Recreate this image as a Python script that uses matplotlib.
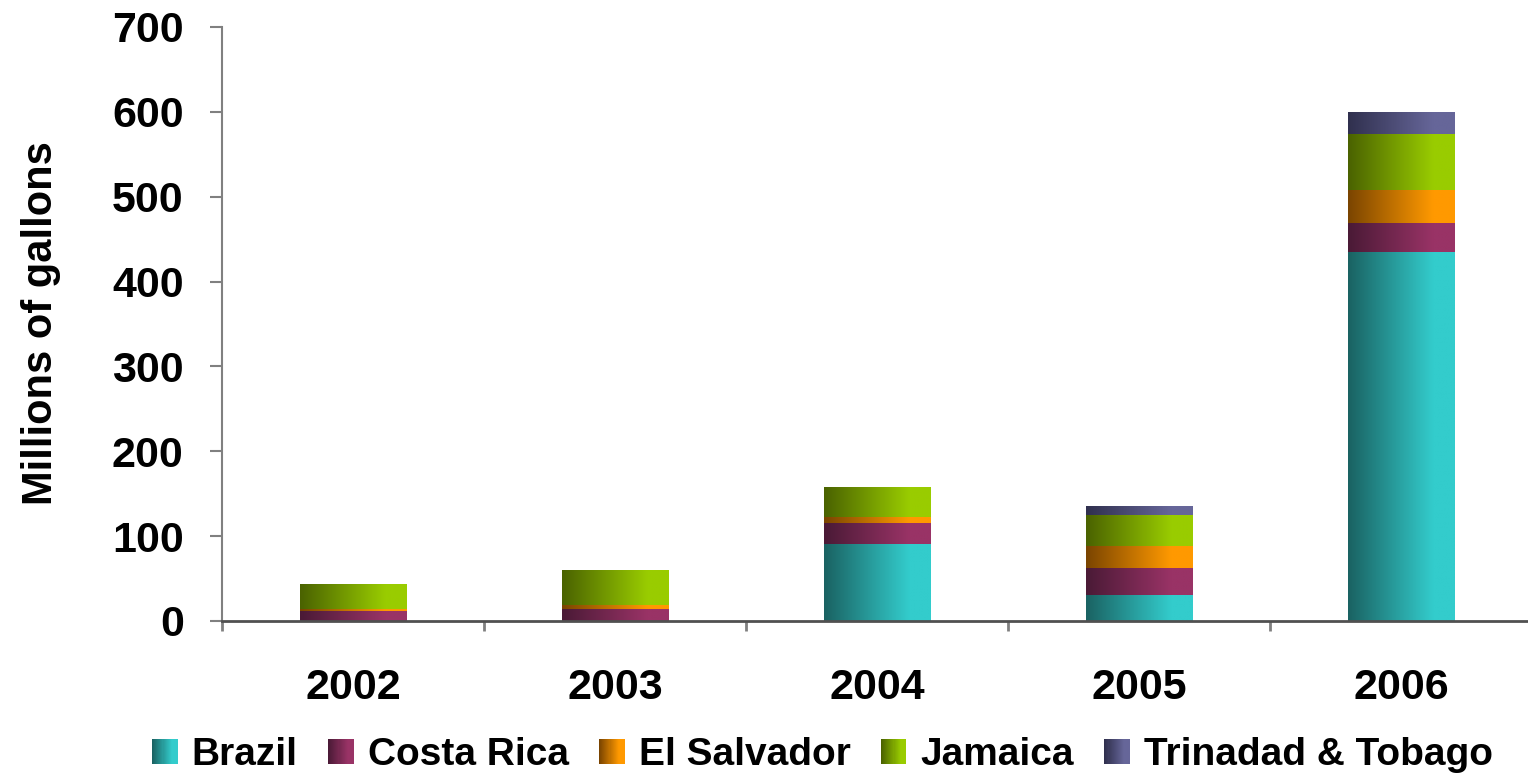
import numpy as np
import matplotlib
matplotlib.use("Agg")
import matplotlib.pyplot as plt
from matplotlib.colors import LinearSegmentedColormap, to_rgb
from matplotlib.patches import Rectangle
from matplotlib.legend_handler import HandlerBase

plt.rcParams['font.family'] = ['Liberation Sans', 'DejaVu Sans']
plt.rcParams['font.weight'] = 'bold'

years = ["2002", "2003", "2004", "2005", "2006"]
series = ["Brazil", "Costa Rica", "El Salvador", "Jamaica", "Trinadad & Tobago"]
brazil = [0, 0, 91, 31, 435]
costa_rica = [12, 14, 24, 32, 34]
el_salvador = [2, 5, 7, 25, 39]
jamaica = [30, 41, 36, 37, 66]
trinidad = [0, 0, 0, 11, 26]
values = [brazil, costa_rica, el_salvador, jamaica, trinidad]

dark_colors = ["#1a6262", "#4a1a36", "#7a4400", "#4a6200", "#30304e"]
light_colors = ["#33cccc", "#993366", "#ff9900", "#99cc00", "#666699"]

W, H = 1528, 773
fig = plt.figure(figsize=(W / 100, H / 100), dpi=100)
ax = fig.add_axes([222 / W, (H - 621) / H, 1310 / W, 594 / H])

t = np.clip(np.linspace(0, 1, 256) / 0.8, 0, 1)
grad = np.tile(t, (2, 1))

x = np.arange(len(years))
width = 0.405
bottom = np.zeros(len(years))
for vals, dc, lc, name in zip(values, dark_colors, light_colors, series):
    cmap = LinearSegmentedColormap.from_list(name, [dc, lc])
    bars = ax.bar(x, vals, width, bottom=bottom, color='none', edgecolor='none', zorder=2)
    for rect in bars:
        h = rect.get_height()
        if h <= 0:
            continue
        x0, y0, w = rect.get_x(), rect.get_y(), rect.get_width()
        im = ax.imshow(grad, cmap=cmap, vmin=0, vmax=1, extent=[x0, x0 + w, y0, y0 + h],
                       aspect='auto', origin='lower', interpolation='bilinear', zorder=2)
        im.set_clip_path(rect)
    bottom = bottom + np.array(vals)

ax.set_xlim(-0.5, len(years) - 0.5)
ax.set_ylim(0, 700)
ax.set_yticks(np.arange(0, 701, 100))
ax.set_xticks(x)
ax.set_xticklabels(years)
ax.set_xticks(np.arange(-0.5, len(years), 1), minor=True)
ax.tick_params(axis='x', which='major', length=0, pad=34, labelsize=31)
ax.tick_params(axis='x', which='minor', length=7.2, width=2, color='#808080')
ax.tick_params(axis='y', length=8.6, width=1.5, color='#808080', labelsize=31, pad=19)
for lab in ax.get_xticklabels() + ax.get_yticklabels():
    lab.set_fontweight('bold')

for s in ['top', 'right']:
    ax.spines[s].set_visible(False)
ax.spines['left'].set_color('#808080')
ax.spines['left'].set_linewidth(1.5)
ax.spines['bottom'].set_color('#505050')
ax.spines['bottom'].set_linewidth(2)

ax.set_ylabel("Millions of gallons", fontsize=30, fontweight='bold')
ax.yaxis.set_label_coords(-0.123, 0.502)


class GradientHandler(HandlerBase):
    def __init__(self, dark, light):
        super().__init__()
        self.dark = np.array(to_rgb(dark))
        self.light = np.array(to_rgb(light))

    def create_artists(self, legend, orig_handle, xdescent, ydescent, width, height, fontsize, trans):
        n = 24
        side = width
        x0 = -xdescent
        y0 = -ydescent + (height - side) / 2
        arts = []
        for i in range(n):
            f = min(1.0, (i / (n - 1)) / 0.8)
            c = self.dark + (self.light - self.dark) * f
            r = Rectangle((x0 + i * side / n, y0), side / n * 1.1, side, facecolor=c,
                          edgecolor='none', transform=trans)
            arts.append(r)
        return arts


handles = [Rectangle((0, 0), 1, 1) for _ in series]
handler_map = {h: GradientHandler(d, l) for h, d, l in zip(handles, dark_colors, light_colors)}
fig.legend(handles, series, loc='center', bbox_to_anchor=(822.5 / W, 18 / H), ncol=5,
           frameon=False, handler_map=handler_map, prop={'size': 28, 'weight': 'bold'},
           handlelength=0.66, handletextpad=0.37, columnspacing=0.77, borderpad=0,
           borderaxespad=0)

fig.savefig("out.png", dpi=100)
